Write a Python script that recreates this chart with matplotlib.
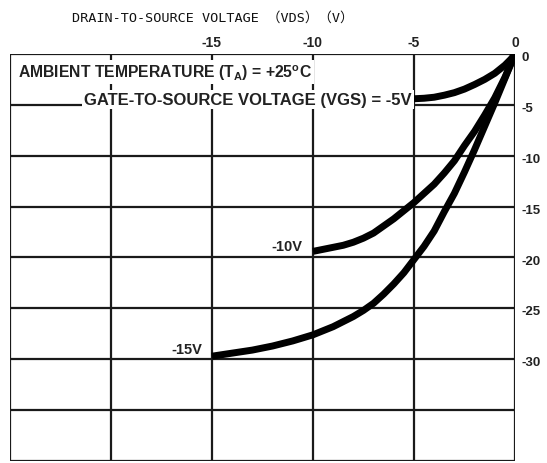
import matplotlib
matplotlib.use("Agg")
import matplotlib.pyplot as plt

# drain current curves (VDS in V, ID in mA)
vds_5 = [-5, -4.5, -4, -3.5, -3, -2.5, -2, -1.5, -1, -0.5, -0.2, 0]
id_5 = [-4.4, -4.35, -4.25, -4.05, -3.8, -3.45, -3.0, -2.5, -1.9, -1.1, -0.5, 0]

vds_10 = [-10, -9.5, -9, -8.5, -8, -7.5, -7, -6.5, -6, -5.5, -5, -4.5, -4,
          -3.5, -3, -2.5, -2, -1.5, -1, -0.5, 0]
id_10 = [-19.4, -19.2, -19.0, -18.8, -18.5, -18.1, -17.6, -16.9, -16.2, -15.4,
         -14.6, -13.7, -12.8, -11.7, -10.5, -9.0, -7.6, -6.0, -4.3, -2.3, 0]

vds_15 = [-15, -14, -13, -12, -11, -10, -9, -8, -7.5, -7, -6.5, -6, -5.5, -5,
          -4.5, -4, -3.5, -3, -2.5, -2, -1.5, -1, -0.5, 0]
id_15 = [-29.7, -29.4, -29.1, -28.7, -28.2, -27.6, -26.8, -25.8, -25.2, -24.5,
         -23.6, -22.6, -21.5, -20.2, -18.9, -17.4, -15.5, -13.7, -11.6, -9.4,
         -7.1, -4.8, -2.4, 0]

top_ticks = [-15, -10, -5, 0]
right_ticks = [0, -5, -10, -15, -20, -25, -30]
grid_x = [-25, -20, -15, -10, -5, 0]
grid_y = [0, -5, -10, -15, -20, -25, -30, -35, -40]

fig = plt.figure(figsize=(5.47, 4.64), dpi=100)
ax = fig.add_axes([0.018, 0.0043, 0.9235, 0.8772])
ax.set_xlim(-25, 0)
ax.set_ylim(-40, 0)

for x in grid_x:
    ax.axvline(x, color="#1a1a1a", lw=1.6, zorder=1)
for y in grid_y:
    ax.axhline(y, color="#1a1a1a", lw=1.6, zorder=1)
for s in ax.spines.values():
    s.set_visible(False)

ax.set_xticks([])
ax.set_yticks([])

curve_kw = dict(color="black", lw=5, solid_capstyle="butt",
                solid_joinstyle="round", zorder=3)
ax.plot(vds_5, id_5, **curve_kw)
ax.plot(vds_10, id_10, **curve_kw)
ax.plot(vds_15, id_15, **curve_kw)

lab_kw = dict(fontfamily="Liberation Sans", fontweight="bold", color="#222222")
for t in top_ticks:
    ax.text(t, 0.45, str(t), ha="center", va="bottom", fontsize=10, **lab_kw)
for t in right_ticks:
    ax.text(0.3, t - 0.3, str(t), ha="left", va="center", fontsize=9.5, **lab_kw)

box = dict(facecolor="white", edgecolor="none", pad=1.5)
ax.text(-24.6, -1.75, "AMBIENT TEMPERATURE (T$_\\mathregular{A}$) = +25$^\\mathregular{o}$C",
        ha="left", va="center", fontsize=11.3, bbox=box, zorder=4, **lab_kw)
ax.text(-5.1, -4.5, "GATE-TO-SOURCE VOLTAGE (VGS) = -5V",
        ha="right", va="center", fontsize=12, bbox=box, zorder=4, **lab_kw)
ax.text(-10.5, -18.9, "-10V", ha="right", va="center", fontsize=10.5, **lab_kw)
ax.text(-15.5, -29.0, "-15V", ha="right", va="center", fontsize=10.5, **lab_kw)

fig.text(72 / 547, 1 - 18 / 464, "DRAIN-TO-SOURCE VOLTAGE （VDS）（V）",
         ha="left", va="center", fontsize=9.7,
         family=["DejaVu Sans Mono", "Noto Sans CJK JP"], color="#111111")

fig.savefig("out.png", dpi=100)
